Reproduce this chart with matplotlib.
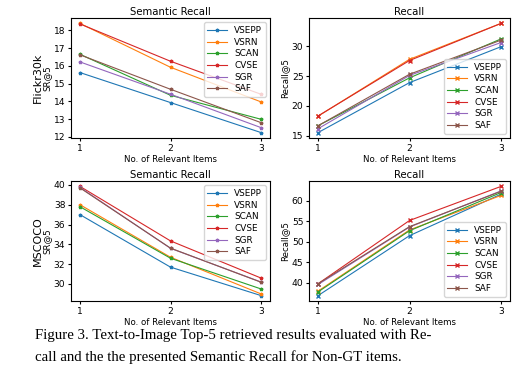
import numpy as np
import matplotlib.pyplot as plt
from matplotlib.ticker import MultipleLocator

# ---------------------------------------------------------------------------
# DATA
# ---------------------------------------------------------------------------
methods = ['VSEPP', 'VSRN', 'SCAN', 'CVSE', 'SGR', 'SAF']
n_items = [1, 2, 3]

# Flickr30k
f30k_sr = [
    [15.62, 13.93, 12.24],   # VSEPP
    [18.39, 15.92, 13.97],   # VSRN
    [16.65, 14.34, 12.99],   # SCAN
    [18.36, 16.26, 14.40],   # CVSE
    [16.22, 14.40, 12.52],   # SGR
    [16.62, 14.68, 12.80],   # SAF
]
f30k_recall = [
    [15.55, 23.9, 29.9],
    [18.30, 27.8, 33.8],
    [16.70, 24.7, 31.2],
    [18.33, 27.6, 33.8],
    [16.20, 25.1, 30.6],
    [16.70, 25.3, 31.0],
]

# MSCOCO
coco_sr = [
    [37.00, 31.70, 28.83],
    [38.00, 32.70, 29.00],
    [37.80, 32.60, 29.50],
    [39.85, 34.35, 30.60],
    [39.75, 33.60, 30.20],
    [39.70, 33.62, 30.18],
]
coco_recall = [
    [36.9, 51.5, 61.6],
    [38.0, 52.9, 61.3],
    [37.8, 52.7, 62.0],
    [39.8, 55.2, 63.5],
    [39.6, 53.6, 62.4],
    [39.8, 53.7, 62.3],
]

caption = ["Figure 3. Text-to-Image Top-5 retrieved results evaluated with Re-",
           "call and the the presented Semantic Recall for Non-GT items."]

# ---------------------------------------------------------------------------
# PLOT
# ---------------------------------------------------------------------------
W, H = 523, 371
fig = plt.figure(figsize=(W / 100, H / 100), dpi=100)
fs = 6.2

def box(l, t, r, b):
    return [l / W, 1 - b / H, (r - l) / W, (b - t) / H]

panels = [
    (box(71, 18, 270, 138), f30k_sr, 'Semantic Recall', 'SR@5', '*', 'upper right', 'Flickr30k', 1),
    (box(309, 18, 510, 138), f30k_recall, 'Recall', 'Recall@5', 'x', 'lower right', None, 5),
    (box(71, 181, 270, 301), coco_sr, 'Semantic Recall', 'SR@5', '*', 'upper right', 'MSCOCO', 2),
    (box(309, 181, 510, 301), coco_recall, 'Recall', 'Recall@5', 'x', 'lower right', None, 5),
]

for rect, data, title, ylab, mk, loc, dname, step in panels:
    ax = fig.add_axes(rect)
    for name, vals in zip(methods, data):
        ax.plot(n_items, vals, marker=mk, markersize=2.5, linewidth=0.8, label=name)
    ax.set_xticks(n_items)
    ax.yaxis.set_major_locator(MultipleLocator(step))
    ax.tick_params(labelsize=fs + 0.4, length=2.5, pad=1.5)
    ax.set_title(title, fontsize=7.3, pad=2)
    ax.set_xlabel('No. of Relevant Items', fontsize=fs, labelpad=1.5)
    ax.set_ylabel(ylab, fontsize=fs, labelpad=1.5)
    ax.legend(loc=loc, fontsize=6.4, handlelength=2.2, labelspacing=0.3,
              borderpad=0.4)
    if dname:
        ax.text(-0.165, 0.5, dname, transform=ax.transAxes, rotation=90,
                ha='center', va='center', fontsize=8)

for i, line in enumerate(caption):
    fig.text(35 / W, 1 - (335 + 22 * i) / H, line, ha='left', va='center',
             fontsize=10.7, family='Liberation Serif')

fig.savefig('out.png', dpi=100)
